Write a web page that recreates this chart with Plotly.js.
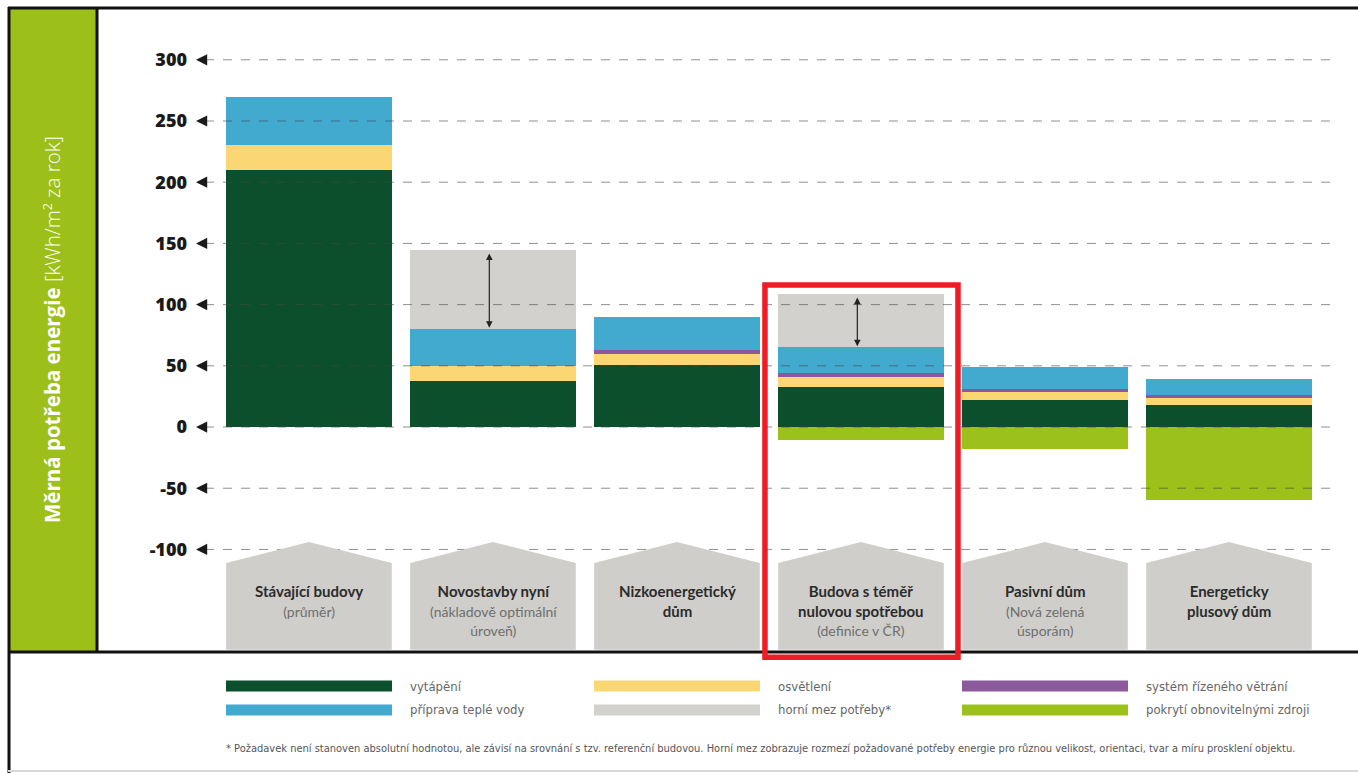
<!DOCTYPE html>
<html><head><meta charset="utf-8">
<script src="https://cdn.plot.ly/plotly-3.0.1.min.js"></script>
<style>html,body{margin:0;padding:0;background:#fff}#chart{width:1358px;height:773px}</style>
</head><body><div id="chart"></div>
<script>
// ---------- data ----------
const categories = ['Stávající budovy', 'Novostavby nyní', 'Nizkoenergetický dům', 'Budova s téměř nulovou spotřebou', 'Pasivní dům', 'Energeticky plusový dům'];
const houseTitles = [['Stávající budovy'], ['Novostavby nyní'], ['Nizkoenergetický', 'dům'], ['Budova s téměř', 'nulovou spotřebou'], ['Pasivní dům'], ['Energeticky', 'plusový dům']];
const houseSubtitles = [['(průměr)'], ['(nákladově optimální', 'úroveň)'], [], ['(definice v ČR)'], ['(Nová zelená', 'úsporám)'], []];
const heating = [210, 38, 51, 33, 22, 18];
const lighting = [20, 12, 9, 8, 7, 5.5];
const ventilation = [0, 0, 3, 3, 2, 2.5];
const hotWater = [40, 30, 27, 21, 18, 13];
const upperLimit = [null, 145, null, 109, null, null];
const renewables = [0, 0, 0, -11, -18, -60];
const yTicks = [-100, -50, 0, 50, 100, 150, 200, 250, 300];
const seriesNames = ['vytápění', 'osvětlení', 'systém řízeného větrání', 'příprava teplé vody', 'horní mez potřeby*', 'pokrytí obnovitelnými zdroji'];
const seriesColors = ['#0b4f2d', '#fbd774', '#8c5a9c', '#42a9cf', '#d2d1ce', '#9dc11b'];
const highlighted = 3;
const yTitle = '<b>Měrná potřeba energie</b> [kWh/m² za rok]';
const footnote = '* Požadavek není stanoven absolutní hodnotou, ale závisí na srovnání s tzv. referenční budovou. Horní mez zobrazuje rozmezí požadované potřeby energie pro různou velikost, orientaci, tvar a míru prosklení objektu.';

// ---------- layout helpers ----------
const FW = 1358, FH = 773;
const M = {l: 205, r: 23, t: 20, b: 108};
const PW = FW - M.l - M.r, PH = FH - M.t - M.b;
const PX = px => (px - M.l) / PW;
const PY = py => (M.t + PH - py) / PH;
const X_RANGE = [-0.5652, 5.576];

const idx = categories.map((_, i) => i);
const stackTop = idx.map(i => heating[i] + lighting[i] + ventilation[i] + hotWater[i]);
const greyPart = idx.map(i => upperLimit[i] == null ? 0 : upperLimit[i] - stackTop[i]);
const seriesValues = [heating, lighting, ventilation, hotWater, greyPart, renewables];

const BW = 0.9;
const traces = seriesValues.map((vals, k) => ({
  type: 'bar', x: idx, y: vals, name: seriesNames[k], width: BW,
  marker: {color: seriesColors[k], line: {width: 0}},
  hovertemplate: seriesNames[k] + ': %{y}<extra></extra>'
}));

const shapes = [];
// gridlines drawn above bars (as in the original)
yTicks.forEach(v => shapes.push({type: 'line', xref: 'paper', yref: 'y', x0: 0, x1: 0.996, y0: v, y1: v,
  layer: 'above', line: {color: 'rgba(70,70,70,0.6)', width: 1, dash: 'dash'}}));
// houses
const houseBottom = -182, houseShoulder = -111, housePeak = -94;
idx.forEach(i => {
  const x0 = i - BW / 2, x1 = i + BW / 2;
  shapes.push({type: 'path', xref: 'x', yref: 'y', layer: 'above', fillcolor: '#cfcecb', line: {width: 0},
    path: `M ${x0},${houseBottom} L ${x0},${houseShoulder} L ${i},${housePeak} L ${x1},${houseShoulder} L ${x1},${houseBottom} Z`});
});
// frame + green side panel
shapes.push({type: 'rect', xref: 'paper', yref: 'paper', x0: PX(10), x1: PX(97), y0: PY(652), y1: PY(8), fillcolor: '#9cbf19', line: {width: 0}, layer: 'above'});
shapes.push({type: 'line', xref: 'paper', yref: 'paper', x0: PX(8), x1: PX(1358), y0: PY(8), y1: PY(8), line: {color: '#111', width: 3}, layer: 'above'});
shapes.push({type: 'line', xref: 'paper', yref: 'paper', x0: PX(9), x1: PX(9), y0: PY(7), y1: PY(773), line: {color: '#111', width: 3}, layer: 'above'});
shapes.push({type: 'line', xref: 'paper', yref: 'paper', x0: PX(97), x1: PX(97), y0: PY(8), y1: PY(652), line: {color: '#111', width: 3}, layer: 'above'});
shapes.push({type: 'line', xref: 'paper', yref: 'paper', x0: PX(8), x1: PX(1358), y0: PY(652), y1: PY(652), line: {color: '#111', width: 3}, layer: 'above'});
shapes.push({type: 'line', xref: 'paper', yref: 'paper', x0: PX(8), x1: PX(1358), y0: PY(771), y1: PY(771), line: {color: '#d8d8d8', width: 2}, layer: 'above'});
// highlight box
shapes.push({type: 'rect', xref: 'x', yref: 'y', x0: highlighted - 0.522, x1: highlighted + 0.527, y0: -188, y1: 116,
  line: {color: '#ee1c24', width: 5.5}, fillcolor: 'rgba(0,0,0,0)', layer: 'above'});

// legend (swatches + labels)
const legendSlots = [[0, 0], [1, 0], [2, 0], [0, 1], [1, 1], [2, 1]];
const annotations = [];
seriesNames.forEach((n, k) => {
  const [col, row] = legendSlots[k];
  const sx = 226 + col * 368, sy = 686 + row * 24;
  shapes.push({type: 'rect', xref: 'paper', yref: 'paper', x0: PX(sx), x1: PX(sx + 166), y0: PY(sy + 5.5), y1: PY(sy - 5.5),
    fillcolor: seriesColors[k], line: {width: 0}, layer: 'above'});
  annotations.push({xref: 'paper', yref: 'paper', x: PX(sx + 182), y: PY(sy), xanchor: 'left', yanchor: 'middle', showarrow: false,
    text: n, font: {family: 'Liberation Sans Narrow, DejaVu Sans Condensed, sans-serif', size: 13, color: '#666'}});
});
annotations.push({xref: 'paper', yref: 'paper', x: PX(224), y: PY(748), xanchor: 'left', yanchor: 'middle', showarrow: false,
  text: footnote, font: {family: 'Liberation Sans Narrow, DejaVu Sans Condensed, sans-serif', size: 11, color: '#555'}});
// y title
annotations.push({xref: 'paper', yref: 'paper', x: PX(52), y: PY(330), xanchor: 'center', yanchor: 'middle', showarrow: false,
  textangle: -90, text: yTitle, font: {family: 'Open Sans, sans-serif', size: 20.5, color: '#ffffff', weight: 300}});
// small pointer arrows beside each tick label
yTicks.forEach(v => annotations.push({xref: 'paper', yref: 'y', x: PX(196), y: v, ax: 8, ay: 0, text: '', showarrow: true,
  arrowhead: 2, arrowsize: 1.4, arrowwidth: 1.6, arrowcolor: '#1a1a1a'}));
// house labels
idx.forEach(i => {
  const lines = houseTitles[i].map(t => '<b>' + t + '</b>')
    .concat(houseSubtitles[i].map(s => '<span style="font-size:14px;fill:#6e6e6e">' + s + '</span>'));
  annotations.push({xref: 'x', yref: 'y', x: i, y: -125, xanchor: 'center', yanchor: 'top', showarrow: false,
    text: lines.join('<br>'), align: 'center', font: {family: 'Lato, Open Sans, sans-serif', size: 15, color: '#2b2b2b'}});
});
// range arrows (upper limit ↔ actual demand)
idx.forEach(i => {
  if (upperLimit[i] == null) return;
  annotations.push({xref: 'x', yref: 'y', axref: 'x', ayref: 'y', x: i - 0.02, y: stackTop[i] + 1, ax: i - 0.02, ay: upperLimit[i] - 2,
    text: '', showarrow: true, arrowside: 'end+start', arrowhead: 2, startarrowhead: 2, arrowsize: 1.1, startarrowsize: 1.1,
    arrowwidth: 1.2, arrowcolor: '#222'});
});

const layout = {
  width: FW, height: FH, margin: M, paper_bgcolor: '#fff', plot_bgcolor: 'rgba(0,0,0,0)',
  barmode: 'relative', bargap: 0, showlegend: false,
  xaxis: {range: X_RANGE, showgrid: false, zeroline: false, showticklabels: false, showline: false, fixedrange: true},
  yaxis: {range: [-194.4, 332.5], tickvals: yTicks, ticktext: yTicks.map(String), ticklabelstandoff: 17,
    showgrid: false, zeroline: false, showline: false, ticks: '',
    tickfont: {family: 'Open Sans, sans-serif', size: 18, color: '#1a1a1a', weight: 800}, fixedrange: true},
  shapes: shapes, annotations: annotations
};
Plotly.newPlot('chart', traces, layout, {displayModeBar: false, staticPlot: true});
</script></body></html>
